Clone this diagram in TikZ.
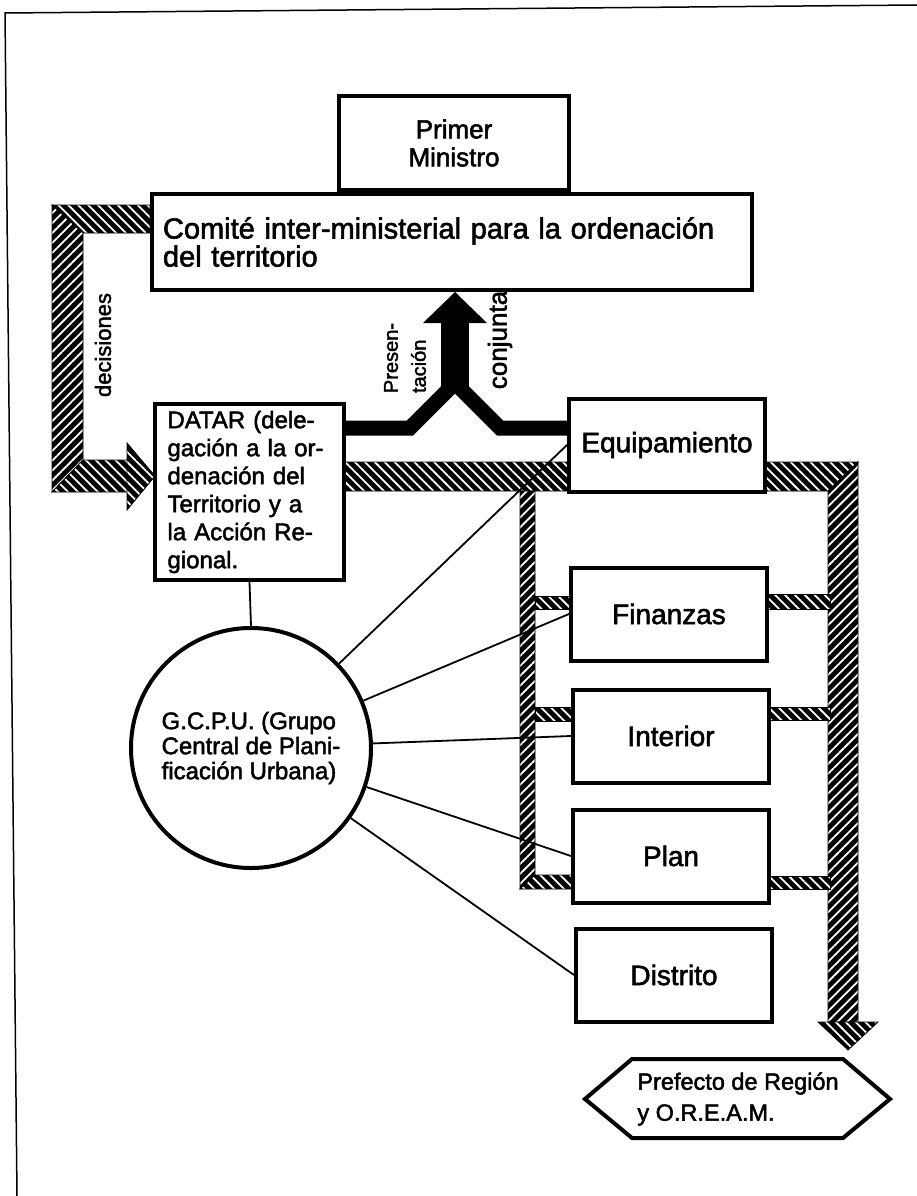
\documentclass[tikz,border=0pt]{standalone}
\usepackage{fontspec}
\setmainfont{Liberation Sans}[FakeBold=2]
\usetikzlibrary{patterns.meta}
\hyphenpenalty=10000
\exhyphenpenalty=10000
\begin{document}
\begin{tikzpicture}[x=1pt,y=-1pt,
  box/.style={draw=black, line width=4pt, fill=white, inner sep=0pt, font=\fontsize{28}{30}\selectfont},
  ministry/.style={box, minimum width=196pt, minimum height=93pt},
  hatchH/.style={draw=black, line width=0.8pt, preaction={fill=black}, pattern={Lines[angle=-45,distance=7pt,line width=1.8pt]}, pattern color=white},
  hatchV/.style={draw=black, line width=0.8pt, preaction={fill=black}, pattern={Lines[angle=45,distance=7pt,line width=1.8pt]}, pattern color=white},
  link/.style={draw=black, line width=1.8pt},
  lbl/.style={font=\fontsize{22}{24}\selectfont, rotate=90, inner sep=0pt}]
\useasboundingbox (0,0) rectangle (917,1196);
\fill[white] (0,0) rectangle (917,1196);
% frame
\draw[line width=1.5pt] (17,1196) -- (5,13) -- (917,5);

% decisiones band
\path[hatchH] (150,205) -- (52,205) -- (83,233) -- (150,233) -- cycle;
\path[hatchV] (52,205) -- (83,233) -- (83,460) -- (52,492) -- cycle;
\path[hatchH] (52,492) -- (83,460) -- (128,460) -- (128,492) -- cycle;
\path[hatchH] (127,443) -- (155,476) -- (127,510) -- cycle;

% main band
\path[hatchH] (342,462) -- (858,462) -- (828,491) -- (342,491) -- cycle;
\path[hatchV] (858,462) -- (858,1022) -- (828,1022) -- (828,491) -- cycle;
\path[hatchH] (818,1022) -- (878,1022) -- (848,1050) -- cycle;
% inner band
\path[hatchV] (520,491) -- (535,491) -- (535,875) -- (520,889) -- cycle;
\path[hatchH] (520,889) -- (535,875) -- (575,875) -- (575,889) -- cycle;
% branches
\path[hatchH] (535,596) rectangle (572,609);
\path[hatchH] (766,594) rectangle (830,609);
\path[hatchH] (535,707) rectangle (575,721);
\path[hatchH] (767,707) rectangle (830,720);
\path[hatchH] (768,876) rectangle (830,889);

% nodes
\node[box, anchor=south west, minimum width=230pt, minimum height=94pt, align=center, font=\fontsize{26}{28}\selectfont] (pm) at (337,192) {Primer\\Ministro};
\node[box, anchor=north west, minimum width=600pt, minimum height=96pt, text width=578pt, inner xsep=11pt, align=left, font=\fontsize{29}{28}\selectfont] (comite) at (150,192) {Comité inter-ministerial para la ordenación\\del territorio};
\node[box, anchor=north west, minimum width=189pt, minimum height=176pt, text width=164pt, inner xsep=12.5pt, align=left, font=\fontsize{24}{28}\selectfont] (datar) at (153,402) {DATAR (dele-\\gación a la or-\\denación del\\Territorio y a\\la Acción Re-\\gional.};
\node[ministry] (equip) at (667,445) {Equipamiento};
\node[ministry] (fin) at (669,614) {Finanzas};
\node[ministry] (int) at (671,736) {Interior};
\node[ministry] (plan) at (671,856) {Plan};
\node[ministry] (dist) at (674,975) {Distrito};

% black arrow presentacion conjunta
\coordinate (yA) at (0,428);
\draw[line width=15pt, line join=miter] (datar.east |- yA) -- (410,428) -- (455,383) -- (500,428) -- (equip.west |- yA);
\fill (441,393) rectangle (469,322);
\fill (423,323) -- (487,323) -- (455,292) -- cycle;

% circle
\node[draw=black, circle, line width=4pt, fill=white, minimum size=240pt, inner sep=0pt, align=left, font=\fontsize{24}{25}\selectfont] (gcpu) at (251,748) {G.C.P.U. (Grupo\\Central de Plani-\\ficación Urbana)};

% connectors
\draw[link] (datar.south) -- (gcpu.north);
\draw[link] (gcpu) -- (equip.west);
\draw[link] (gcpu) -- (fin.west);
\draw[link] (gcpu) -- (int.west);
\draw[link] (gcpu) -- (plan.west);
\draw[link] (gcpu) -- (dist.west);

% prefecto
\node[inner sep=0pt, align=left, font=\fontsize{23.5}{31}\selectfont] (pref) at (738,1099) {Prefecto de Región\\y O.R.E.A.M.};
\draw[line width=4pt, line join=miter] (585,1099) -- (632,1059) -- (843,1059) -- (890,1099) -- (843,1138) -- (632,1138) -- cycle;

% labels
\node[lbl] (dec) at (103,345) {decisiones};
\node[lbl, align=left, font=\fontsize{20}{28}\selectfont] (pres) at (405,358) {Presen-\\tación};
\node[lbl, font=\fontsize{26}{24}\selectfont] (conj) at (500,340) {conjunta};
\end{tikzpicture}
\end{document}
